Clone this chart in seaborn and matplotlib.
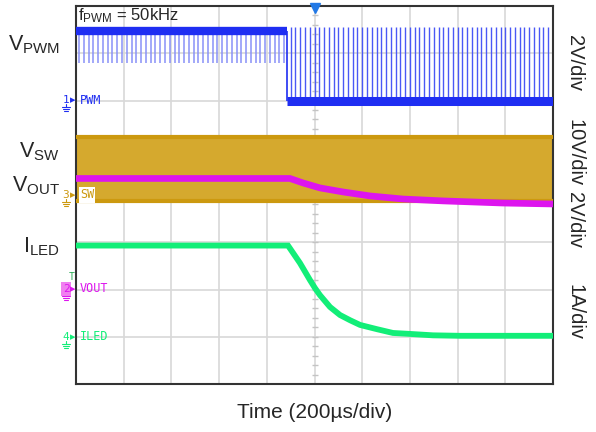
import numpy as np
import matplotlib
matplotlib.use("Agg")
import matplotlib.pyplot as plt
import seaborn as sns

# scope settings: 200us/div, 10 x 8 divisions
time_per_div = 200
n_xdiv = 10
n_ydiv = 8

# channel scale (units/div) and ground marker position (div)
pwm_scale, pwm_ground = 2, 6
sw_scale, sw_ground = 10, 4
vout_scale, vout_ground = 2, 2
iled_scale, iled_ground = 1, 1

# PWM channel (V)
pwm_step_us = 884
pwm_high = 2.95
pwm_low = 0.0
pwm_dip_level = 1.6
pwm_peak_level = 3.1
pwm_dips_us = [13, 33, 53, 73, 93, 113, 133, 153, 173, 193, 213, 233, 253, 273, 293,
               313, 333, 353, 373, 393, 413, 433, 453, 473, 493, 513, 533, 553, 573,
               593, 613, 633, 653, 673, 693, 713, 733, 753, 773, 793, 813, 833, 853, 873]
pwm_pulses_us = [900, 920, 940, 960, 980, 1000, 1020, 1040, 1060, 1080, 1100, 1120, 1140,
                 1160, 1180, 1200, 1220, 1240, 1260, 1280, 1300, 1320, 1340, 1360, 1380,
                 1400, 1420, 1440, 1460, 1480, 1500, 1520, 1540, 1560, 1580, 1600, 1620,
                 1640, 1660, 1680, 1700, 1720, 1740, 1760, 1780, 1800, 1820, 1840, 1860,
                 1880, 1900, 1920, 1940, 1960, 1980]

# SW node envelope (V)
sw_t = [0, 2000]
sw_top = [12.3, 12.3]
sw_bottom = [-1.3, -1.3]

# VOUT (V)
vout_t = [0, 897, 952, 1023, 1119, 1233, 1371, 1539, 1790, 2000]
vout_v = [4.70, 4.70, 4.51, 4.30, 4.13, 3.96, 3.83, 3.75, 3.66, 3.62]

# ILED (A)
iled_t = [0, 889, 939, 981, 1002, 1023, 1065, 1107, 1149, 1191, 1262, 1329, 1400, 1497, 1610, 2000]
iled_a = [1.93, 1.93, 1.56, 1.20, 1.03, 0.88, 0.63, 0.46, 0.35, 0.25, 0.16, 0.08, 0.06, 0.03, 0.02, 0.02]

c_pwm = '#1F2EF2'
c_pwm_light = '#8991F8'
c_sw_edge = '#CC990F'
c_sw_fill = '#D5A92E'
c_vout = '#DD15EE'
c_iled = '#12EE78'


def to_div(vals, scale, ground):
    return [ground + v / scale for v in vals]


sns.set_style("white")
plt.rcParams['font.family'] = ['Liberation Sans', 'DejaVu Sans']
plt.rcParams['mathtext.fontset'] = 'custom'
plt.rcParams['mathtext.rm'] = 'Liberation Sans'
plt.rcParams['mathtext.it'] = 'Liberation Sans:italic'

W, H = 596, 432
fig = plt.figure(figsize=(W / 100, H / 100), dpi=100)
ax = fig.add_axes([76 / W, 48 / H, 477 / W, 378 / H])
xmax = time_per_div * n_xdiv
ax.set_xlim(0, xmax)
ax.set_ylim(0, n_ydiv)
ax.set_xticks(np.arange(0, xmax + 1, time_per_div))
ax.set_yticks(np.arange(0, n_ydiv + 1, 1))
ax.set_xticklabels([])
ax.set_yticklabels([])
ax.tick_params(length=0)
ax.grid(True, color='#D8D8D8', lw=1.2)
ax.set_axisbelow(True)
for s in ax.spines.values():
    s.set_color('#333333')
    s.set_linewidth(1.5)

# centre graticule ticks
ax.scatter(np.full(39, xmax / 2), np.arange(0.2, 8, 0.2), marker='_', s=18,
           color='#C4C4C4', lw=1, zorder=1)
ax.scatter(np.arange(40, xmax, 40), np.full(49, 4.0), marker='|', s=18,
           color='#C4C4C4', lw=1, zorder=1)

line_kw = dict(solid_capstyle='butt', solid_joinstyle='miter')

# SW
sw_top_d = to_div(sw_top, sw_scale, sw_ground)
sw_bot_d = to_div(sw_bottom, sw_scale, sw_ground)
ax.fill_between(sw_t, sw_bot_d, sw_top_d, color=c_sw_fill, lw=0, zorder=2)
sns.lineplot(x=sw_t, y=sw_top_d, color=c_sw_edge, lw=3, ax=ax, zorder=3, **line_kw)
sns.lineplot(x=sw_t, y=sw_bot_d, color=c_sw_edge, lw=3, ax=ax, zorder=3, **line_kw)

# VOUT
sns.lineplot(x=vout_t, y=to_div(vout_v, vout_scale, vout_ground), color=c_vout,
             lw=4.8, ax=ax, zorder=4, **line_kw)

# PWM
hi = pwm_ground + pwm_high / pwm_scale
lo = pwm_ground + pwm_low / pwm_scale
ax.vlines(pwm_dips_us, pwm_ground + pwm_dip_level / pwm_scale, hi, color=c_pwm_light,
          lw=1.1, zorder=4)
ax.vlines(pwm_pulses_us, lo, pwm_ground + pwm_peak_level / pwm_scale, color='#4A58F5',
          lw=1.0, zorder=4)
sns.lineplot(x=[0, pwm_step_us], y=[hi, hi], color=c_pwm, lw=6, ax=ax, zorder=5, **line_kw)
sns.lineplot(x=[pwm_step_us, xmax], y=[lo, lo], color=c_pwm, lw=6.5, ax=ax, zorder=5, **line_kw)
ax.vlines([pwm_step_us], lo, hi, color=c_pwm, lw=1.2, zorder=5)

# ILED
sns.lineplot(x=iled_t, y=to_div(iled_a, iled_scale, iled_ground), color=c_iled,
             lw=4.2, ax=ax, zorder=6, **line_kw)

# trigger marker
ax.plot([xmax / 2], [n_ydiv - 0.05], marker='v', ms=7, color='#2279E6', clip_on=False, zorder=7)


def ftext(x, y, s, **kw):
    return fig.text(x / W, 1 - y / H, s, **kw)


ftext(78, 16, r'f$_{\mathrm{PWM}}$ = 50kHz', fontsize=12, va='center', ha='left')
ftext(60, 45, r'V$_{\mathrm{PWM}}$', fontsize=15.5, ha='right', va='center')
ftext(60, 152, r'V$_{\mathrm{SW}}$', fontsize=15.5, ha='right', va='center')
ftext(60, 186, r'V$_{\mathrm{OUT}}$', fontsize=15.5, ha='right', va='center')
ftext(60, 247, r'I$_{\mathrm{LED}}$', fontsize=15.5, ha='right', va='center')
ftext(315, 412, 'Time (200µs/div)', fontsize=15, ha='center', va='center')

for y, s in [(63, '2V/div'), (153, '10V/div'), (220, '2V/div'), (312, '1A/div')]:
    ftext(575, y, s, rotation=-90, fontsize=14.5, ha='center', va='center')

# channel markers
mono = 'DejaVu Sans Mono'
markers = [(100, '1', 'PWM', c_pwm), (195, '3', 'SW', c_sw_edge),
           (289, '2', 'VOUT', c_vout), (337, '4', 'ILED', c_iled)]
for y, num, name, c in markers:
    bb = dict(boxstyle='square,pad=0.15', fc='#F080F0', ec='none') if num == '2' else None
    ftext(66, y, num, fontsize=8, family=mono, color=c, ha='center', va='center', bbox=bb)
    ftext(73, y, '▸', fontsize=8, family='DejaVu Sans', color=c, ha='center', va='center')
    bb2 = dict(boxstyle='square,pad=0.1', fc='white', ec='none') if name == 'SW' else None
    ftext(80, y, name, fontsize=8.5, family=mono, color=c, ha='left', va='center', bbox=bb2)
    for dy, half in [(7, 4), (9, 2.8), (11, 1.6)]:
        fig.add_artist(plt.Line2D([(66 - half) / W, (66 + half) / W],
                                  [1 - (y + dy) / H, 1 - (y + dy) / H], color=c, lw=0.8))
    fig.add_artist(plt.Line2D([66 / W, 66 / W], [1 - (y + 4) / H, 1 - (y + 7) / H],
                              color=c, lw=0.8))
ftext(72, 277, 'T', fontsize=7, family=mono, color='#2AAA55', ha='center', va='center')

fig.savefig('out.png', dpi=100, facecolor='white')
